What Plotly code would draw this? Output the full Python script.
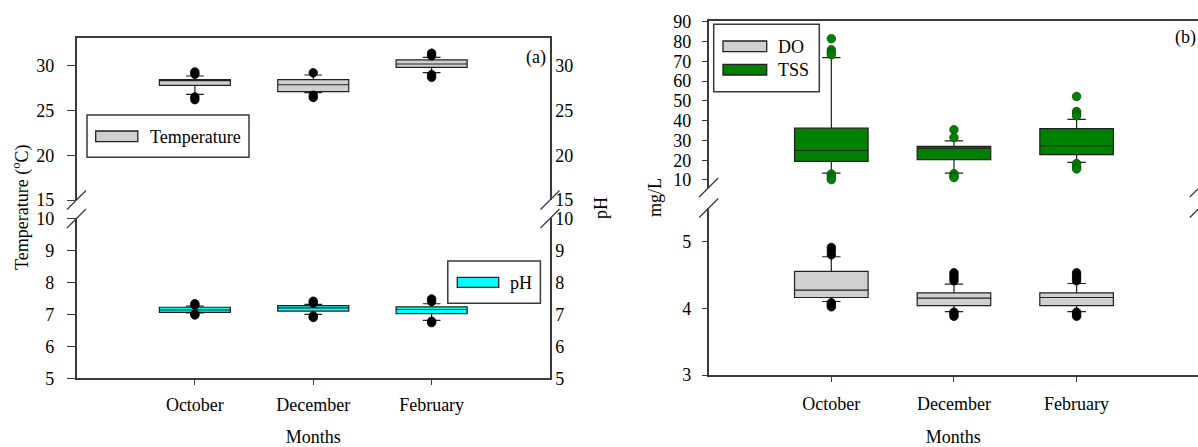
import plotly.graph_objects as go

W, H = 1198, 447
months = ["October", "December", "February"]

# Panel (a) - Temperature (°C)
temp_q1 = [27.80, 27.10, 29.82]
temp_med = [28.35, 27.87, 30.19]
temp_q3 = [28.45, 28.45, 30.64]
temp_lo = [26.80, 26.98, 29.22]
temp_hi = [28.85, 28.96, 30.94]
temp_out_x = ["October"] * 4 + ["December"] * 3 + ["February"] * 4
temp_out_y = [29.30, 29.05, 26.50, 26.20, 29.20, 26.70, 26.45, 31.40, 31.10, 29.00, 28.70]

# Panel (a) - pH
ph_q1 = [7.06, 7.10, 7.02]
ph_med = [7.14, 7.20, 7.15]
ph_q3 = [7.22, 7.27, 7.23]
ph_lo = [7.04, 7.00, 6.81]
ph_hi = [7.26, 7.31, 7.33]
ph_out_x = ["October"] * 4 + ["December"] * 4 + ["February"] * 4
ph_out_y = [7.29, 7.33, 7.00, 6.98, 7.35, 7.41, 6.95, 6.90, 7.40, 7.48, 6.78, 6.74]

# Panel (b) - TSS (mg/L)
tss_q1 = [19.4, 20.3, 22.8]
tss_med = [24.9, 26.1, 27.3]
tss_q3 = [36.2, 27.0, 36.0]
tss_lo = [13.5, 13.5, 18.9]
tss_hi = [71.8, 29.8, 40.6]
tss_out_x = ["October"] * 7 + ["December"] * 5 + ["February"] * 7
tss_out_y = [81.4, 75.8, 74.5, 73.3, 13.0, 11.5, 10.2,
             35.4, 31.5, 13.2, 11.9, 11.2,
             52.2, 44.6, 43.5, 42.4, 18.3, 16.5, 15.6]

# Panel (b) - DO (mg/L)
do_q1 = [4.16, 4.04, 4.04]
do_med = [4.27, 4.15, 4.16]
do_q3 = [4.55, 4.23, 4.23]
do_lo = [4.10, 3.95, 3.95]
do_hi = [4.77, 4.36, 4.37]
do_out_x = ["October"] * 6 + ["December"] * 7 + ["February"] * 7
do_out_y = [4.91, 4.86, 4.80, 4.08, 4.05, 4.02,
            4.53, 4.49, 4.45, 4.41, 3.94, 3.91, 3.88,
            4.53, 4.49, 4.45, 4.41, 3.94, 3.91, 3.88]

FONT = "Liberation Serif"
FS = 18
LINE = "#3a3a3a"
GRAY = "#d0d0d0"
CYAN = "#00ffff"
GREEN = "#008000"


def px(x):
    return x / W


def py(y):
    return 1 - y / H


def box(q1, med, q3, lo, hi, fill, xa, ya):
    return go.Box(x=months, q1=q1, median=med, q3=q3, lowerfence=lo, upperfence=hi,
                  fillcolor=fill, line=dict(color="#202020", width=1.2), width=0.6,
                  whiskerwidth=0.25, boxpoints=False, xaxis=xa, yaxis=ya,
                  showlegend=False, hoverinfo="skip")


def outl(xs, ys, color, xa, ya, edge):
    return go.Scatter(x=xs, y=ys, mode="markers", xaxis=xa, yaxis=ya, showlegend=False,
                      marker=dict(size=8.5, color=color, line=dict(color=edge, width=0.8)),
                      hoverinfo="skip")


fig = go.Figure()
fig.add_trace(box(ph_q1, ph_med, ph_q3, ph_lo, ph_hi, CYAN, "x", "y"))
fig.add_trace(outl(ph_out_x, ph_out_y, "black", "x", "y3", "black"))
fig.add_trace(box(temp_q1, temp_med, temp_q3, temp_lo, temp_hi, GRAY, "x2", "y2"))
fig.add_trace(outl(temp_out_x, temp_out_y, "black", "x2", "y4", "black"))
fig.add_trace(box(do_q1, do_med, do_q3, do_lo, do_hi, GRAY, "x3", "y5"))
fig.add_trace(outl(do_out_x, do_out_y, "black", "x3", "y5", "black"))
fig.add_trace(box(tss_q1, tss_med, tss_q3, tss_lo, tss_hi, GREEN, "x4", "y6"))
fig.add_trace(outl(tss_out_x, tss_out_y, GREEN, "x4", "y6", "#0b4a0b"))

tickfont = dict(family=FONT, size=FS, color="black")
common = dict(showgrid=False, zeroline=False, showline=True, linecolor=LINE, linewidth=1.5,
              tickfont=tickfont, tickcolor=LINE, tickwidth=1.2, automargin=False)

left_dom = [px(76.5), px(550)]
right_dom = [px(708.7), 1.0]
cat_order = dict(categoryorder="array", categoryarray=months)

fig.update_layout(
    template="none",
    width=W, height=H, margin=dict(l=0, r=0, t=0, b=0, autoexpand=False),
    paper_bgcolor="white", plot_bgcolor="rgba(0,0,0,0)",
    font=dict(family=FONT, size=FS, color="black"),
    xaxis=dict(domain=left_dom, anchor="y", range=[-1, 3], type="category", ticks="outside",
               ticklen=5, ticklabelstandoff=4,
               title=dict(text="Months", font=dict(family=FONT, size=FS), standoff=18),
               **cat_order, **common),
    xaxis2=dict(domain=left_dom, anchor="y2", range=[-1, 3], type="category", side="top",
                ticks="", showticklabels=False, **cat_order, **common),
    xaxis3=dict(domain=right_dom, anchor="y5", range=[-1, 2.99], type="category", ticks="outside",
                ticklen=5, ticklabelstandoff=7,
                title=dict(text="Months", font=dict(family=FONT, size=FS), standoff=19),
                **cat_order, **common),
    xaxis4=dict(domain=right_dom, anchor="y6", range=[-1, 2.99], type="category", side="top",
                ticks="", showticklabels=False, **cat_order, **common),
    yaxis=dict(domain=[py(378.3), py(218.3)], anchor="x", range=[5, 10], dtick=1,
               ticks="outside", ticklen=8, ticklabelstandoff=9, **common),
    yaxis3=dict(overlaying="y", anchor="x", side="right", range=[5, 10], dtick=1,
                ticks="", **common),
    yaxis2=dict(domain=[py(200), py(38.3)], anchor="x2", range=[15, 33.06], tick0=15, dtick=5,
                ticks="outside", ticklen=8, ticklabelstandoff=9, **common),
    yaxis4=dict(overlaying="y2", anchor="x2", side="right", range=[15, 33.06], tick0=15, dtick=5,
                ticks="", **common),
    yaxis5=dict(domain=[py(375), py(208)], anchor="x3", range=[3, 5.5], dtick=1,
                ticks="outside", ticklen=5, ticklabelstandoff=7, **common),
    yaxis6=dict(domain=[py(187.5), py(20.7)], anchor="x4", range=[6.2, 90.5], tick0=10, dtick=10,
                ticks="outside", ticklen=5, ticklabelstandoff=7, **common),
)

shapes = []


def brk(x, y):
    shapes.append(dict(type="line", xref="paper", yref="paper",
                       x0=px(x - 9.5), y0=py(y + 9.5), x1=px(x + 9.5), y1=py(y - 9.5),
                       line=dict(color=LINE, width=1.3)))


for bx in (76.5, 550):
    brk(bx, 200)
    brk(bx, 218.5)
for bx in (708.7, 1199.3):
    brk(bx, 187.5)
    brk(bx, 208)


def rect(x0, y0, x1, y1, fill, lw=1.3, col="#202020"):
    shapes.append(dict(type="rect", xref="paper", yref="paper",
                       x0=px(x0), y0=py(y1), x1=px(x1), y1=py(y0),
                       fillcolor=fill, line=dict(color=col, width=lw)))


# legend frames and icons
rect(87, 115, 249, 157.3, "white", 1.5, LINE)
rect(95.7, 131, 137.8, 141.7, GRAY)
rect(447.8, 261, 540.4, 303.3, "white", 1.5, LINE)
rect(457.3, 277.3, 498.7, 287.3, CYAN)
rect(713.7, 24.3, 819.3, 91.7, "white", 1.5, LINE)
rect(723, 41, 766.7, 51.7, GRAY)
rect(723, 64.3, 766.7, 75, GREEN)

annotations = []


def txt(text, x, y, xanchor="left", angle=0, size=FS):
    annotations.append(dict(text=text, x=px(x), y=py(y), xref="paper", yref="paper",
                            xanchor=xanchor, yanchor="middle", showarrow=False, textangle=angle,
                            font=dict(family=FONT, size=size, color="black")))


txt("Temperature", 148, 137)
txt("pH", 508, 282.5)
txt("DO", 776, 47)
txt("TSS", 776, 70.5)
txt("(a)", 547.5, 57, xanchor="right")
txt("(b)", 1197.5, 37.5, xanchor="right")
txt("Temperature (<sup>o</sup>C)", 21, 208, xanchor="center", angle=-90)
txt("pH", 601, 208, xanchor="center", angle=-90)
txt("mg/L", 655, 198, xanchor="center", angle=-90)

fig.update_layout(shapes=shapes, annotations=annotations)

fig.write_html("out.html")
